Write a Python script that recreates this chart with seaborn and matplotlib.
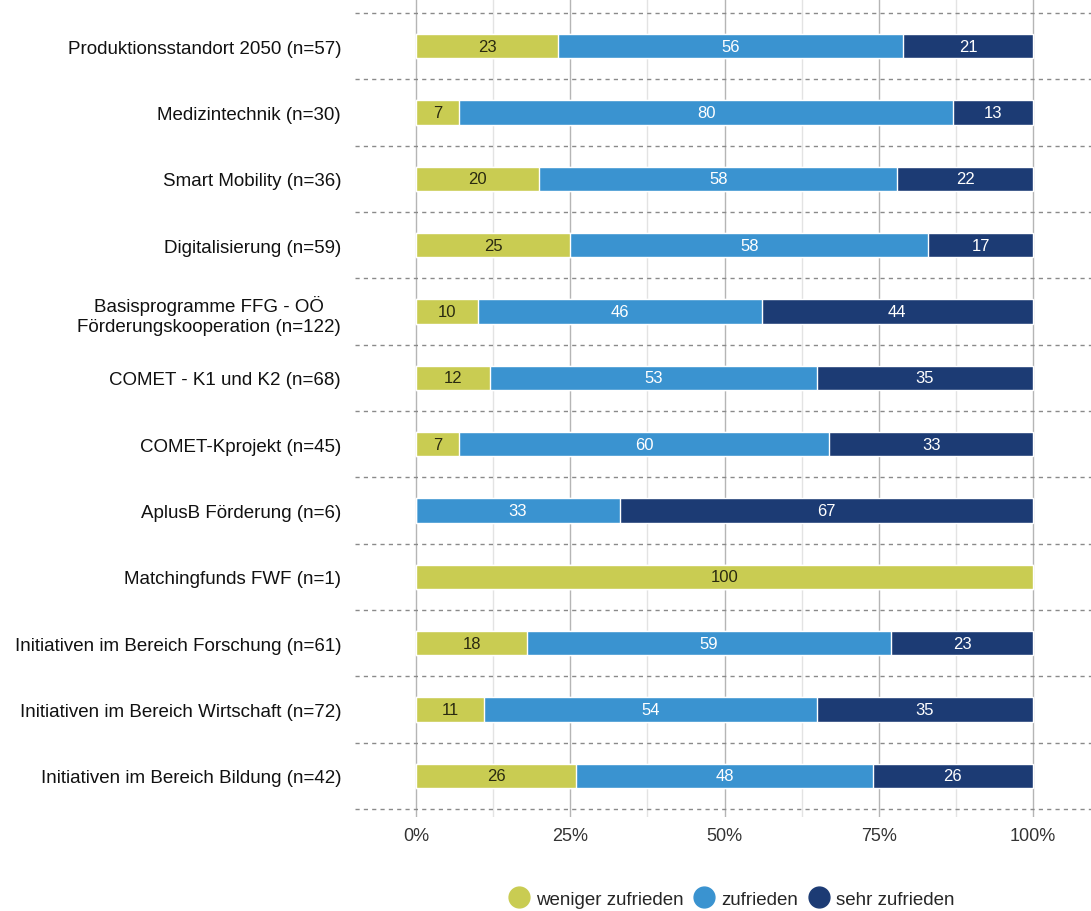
import numpy as np
import pandas as pd
import matplotlib
matplotlib.use("Agg")
import matplotlib.pyplot as plt
import seaborn as sns
from matplotlib.lines import Line2D

categories = [
    "Produktionsstandort 2050 (n=57)",
    "Medizintechnik (n=30)",
    "Smart Mobility (n=36)",
    "Digitalisierung (n=59)",
    "Basisprogramme FFG - OÖ\nFörderungskooperation (n=122)",
    "COMET - K1 und K2 (n=68)",
    "COMET-Kprojekt (n=45)",
    "AplusB Förderung (n=6)",
    "Matchingfunds FWF (n=1)",
    "Initiativen im Bereich Forschung (n=61)",
    "Initiativen im Bereich Wirtschaft (n=72)",
    "Initiativen im Bereich Bildung (n=42)",
]
weniger = [23, 7, 20, 25, 10, 12, 7, 0, 100, 18, 11, 26]
zufrieden = [56, 80, 58, 58, 46, 53, 60, 33, 0, 59, 54, 48]
sehr = [21, 13, 22, 17, 44, 35, 33, 67, 0, 23, 35, 26]
series_names = ["weniger zufrieden", "zufrieden", "sehr zufrieden"]
xticks = [0, 25, 50, 75, 100]
xtick_labels = ["0%", "25%", "50%", "75%", "100%"]

colors = ["#c9cc52", "#3a93d0", "#1c3b74"]
text_colors = ["#2a2a10", "white", "white"]

sns.set_theme(style="white")
plt.rcParams["font.family"] = ["Liberation Sans", "DejaVu Sans"]

df = pd.DataFrame({"cat": categories, "w": weniger, "z": zufrieden, "s": sehr})
df["c1"] = df["w"]
df["c2"] = df["w"] + df["z"]
df["c3"] = df["w"] + df["z"] + df["s"]

fig = plt.figure(figsize=(10.91, 9.12), dpi=100)
ax = fig.add_axes([355 / 1091, 1 - 818 / 912, (1091 - 355) / 1091, 818 / 912])

# gridlines (vertical)
for v in np.arange(0, 101, 12.5):
    major = v % 25 == 0
    ax.axvline(v, color="#b5b5b5" if major else "#e3e3e3", lw=1.0, zorder=0)

bar_h = 0.37
for col, colr in zip(["c3", "c2", "c1"], colors[::-1]):
    sns.barplot(data=df, x=col, y="cat", orient="h", color=colr, width=bar_h,
                saturation=1, ax=ax, zorder=2, order=categories)

# horizontal dashed separators
for i in range(len(categories) + 1):
    ax.axhline(i - 0.5, color="#8a8a8a", lw=1.0, ls=(0, (3, 3)), zorder=1)

# labels
for i, row in df.iterrows():
    segs = [(0, row["w"]), (row["w"], row["z"]), (row["w"] + row["z"], row["s"])]
    for k, (start, val) in enumerate(segs):
        if val > 0:
            ax.text(start + val / 2, i, f"{val}", ha="center", va="center",
                    color=text_colors[k], fontsize=12, zorder=3)

ax.set_xlim(-9.9, 109.4)
ax.set_ylim(11.62, -0.71)
ax.set_xlabel("")
ax.set_ylabel("")
ax.set_xticks(xticks)
ax.set_xticklabels(xtick_labels, fontsize=13, color="#333333")
ax.tick_params(axis="y", labelsize=13.5, colors="#111111", length=0, pad=10)
ax.tick_params(axis="x", length=0, pad=7)
for sp in ax.spines.values():
    sp.set_visible(False)
for lab in ax.get_yticklabels():
    lab.set_horizontalalignment("right")
    lab.set_multialignment("center")

handles = [Line2D([0], [0], marker="o", color="none", markerfacecolor=c,
                  markeredgecolor=c, markersize=15) for c in colors]
fig.legend(handles, series_names, loc="center", bbox_to_anchor=(731 / 1091, 1 - 900 / 912),
           ncol=3, frameon=False, fontsize=13.5, handletextpad=0.3, columnspacing=0.5,
           handlelength=1.2)

fig.savefig("out.png", dpi=100)
